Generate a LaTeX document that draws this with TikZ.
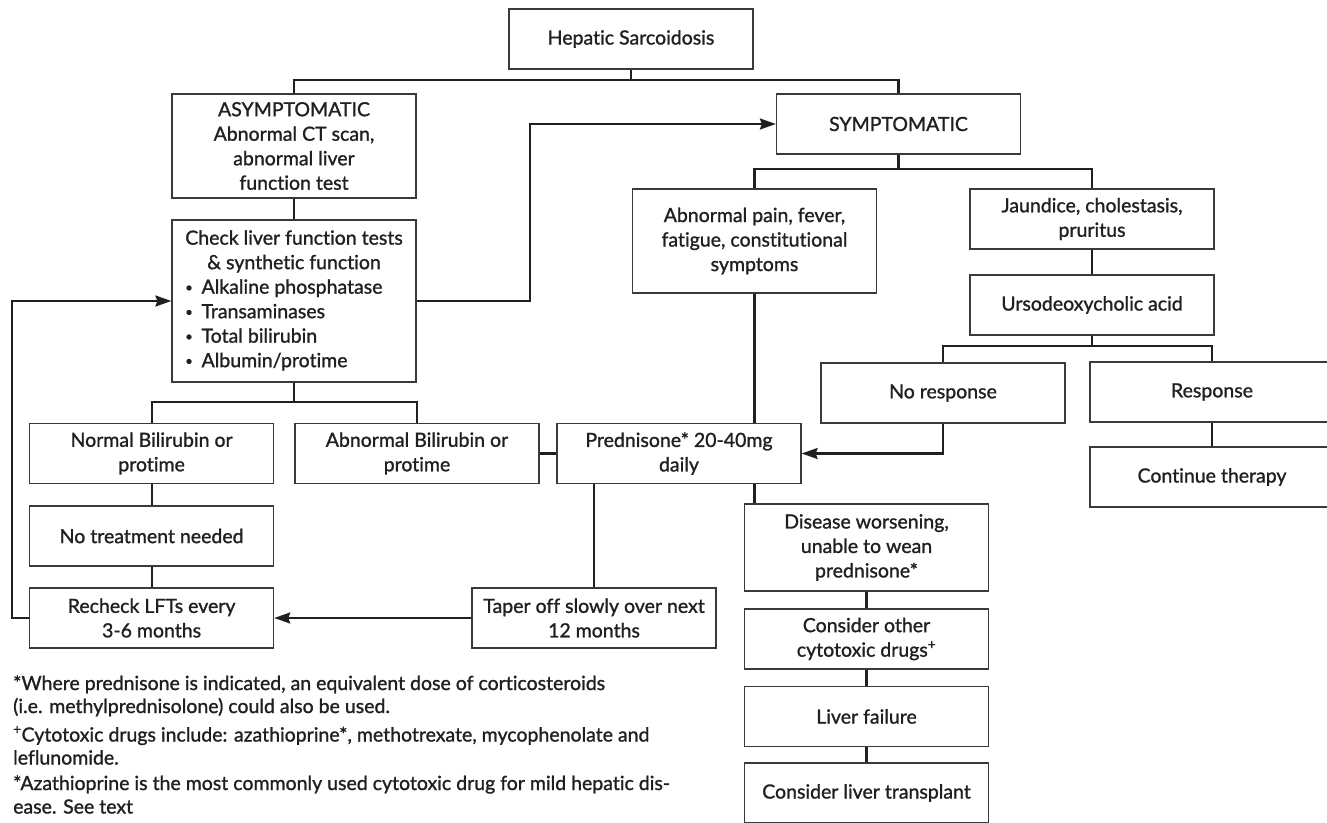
\documentclass[tikz,border=0pt]{standalone}
\usepackage{fontspec}
\setmainfont{Lato}[FakeBold=1.2, Ligatures=NoCommon]
\usetikzlibrary{arrows.meta}
\definecolor{ink}{HTML}{231F20}
\definecolor{boxline}{HTML}{3A3A3A}
\newcommand\boxfont{\fontsize{19.5}{24.5}\selectfont}
\newcommand\smallbul{{\fontsize{13}{13}\selectfont\raisebox{1.8pt}{•}}\hspace{0.45em}}
\tikzset{
  box/.style={draw=boxline, line width=1.3pt, minimum width=244pt, minimum height=60pt,
    align=center, inner sep=2pt, text=ink, font=\boxfont},
  conn/.style={draw=ink, line width=2.2pt},
  arr/.style={conn, -{Stealth[length=16pt,width=11pt,inset=2pt]}},
  note/.style={anchor=base west, inner sep=0pt, text=ink, font=\boxfont}
}
\begin{document}
\begin{tikzpicture}[x=1pt,y=-1pt]
\path[use as bounding box] (0,0) rectangle (1327,822);
\fill[white] (0,0) rectangle (1327,822);
\clip (0,0) rectangle (1327,822);

% boxes
\node[box] (hep) at (631,39) {Hepatic Sarcoidosis};
\node[box, minimum height=104pt] (asym) at (294,146) {ASYMPTOMATIC\\Abnormal CT scan,\\abnormal liver\\function test};
\node[box] (symp) at (898.5,124) {SYMPTOMATIC};
\node[box, minimum height=162pt] (check) at (294,301) {\begin{tabular}{@{}l@{}}\multicolumn{1}{@{}c@{}}{Check liver function tests}\\
 \multicolumn{1}{@{}c@{}}{\& synthetic function}\\
 \smallbul Alkaline phosphatase\\
 \smallbul Transaminases\\
 \smallbul Total bilirubin\\
 \smallbul Albumin/protime\end{tabular}};
\node[box, minimum height=104pt] (pain) at (754.5,241) {Abnormal pain, fever,\\fatigue, constitutional\\symptoms};
\node[box] (jaun) at (1092,219) {Jaundice, cholestasis,\\pruritus};
\node[box] (urso) at (1092,305) {Ursodeoxycholic acid};
\node[box] (nores) at (943,393) {No response};
\node[box] (resp) at (1212,392) {Response};
\node[box] (normal) at (151.6,453.5) {Normal Bilirubin or\\protime};
\node[box] (abn) at (417,453.5) {Abnormal Bilirubin or\\protime};
\node[box] (pred) at (679,453.5) {Prednisone* 20-40mg\\daily};
\node[box] (cont) at (1212,477) {Continue therapy};
\node[box] (notreat) at (151.6,536) {No treatment needed};
\node[box] (recheck) at (151.6,618) {Recheck LFTs every\\3-6 months};
\node[box] (taper) at (594,618) {Taper off slowly over next\\12 months};
\node[box, minimum height=87pt] (dis) at (866.5,547.5) {Disease worsening,\\unable to wean\\prednisone*};
\node[box] (cons) at (866.5,639) {Consider other\\cytotoxic drugs\textsuperscript{+}};
\node[box] (fail) at (866.5,716.5) {Liver failure};
\node[box] (trans) at (866.5,793) {Consider liver transplant};

% connectors
\coordinate (b1) at (631,80);
\draw[conn] (hep.south) -- (b1);
\draw[conn] (asym.north) |- (b1) -| (symp.north);
\draw[conn] (asym.south) -- (check.north);
\draw[arr] (check.east) -- ++(113,0) |- (symp.west);
\draw[arr] (recheck.west) -- ++(-17,0) |- (check.west);
\coordinate (b2) at (294,402);
\draw[conn] (check.south) -- (b2);
\draw[conn] (normal.north) |- (b2) -| (abn.north);
\draw[conn] (abn.east) -- (pred.west);
\draw[conn] (pain.south) -- (pain.south |- pred.north);
\coordinate (b3) at (898.5,169);
\draw[conn] (symp.south) -- (b3);
\draw[conn] (pain.north) |- (b3) -| (jaun.north);
\draw[conn] (jaun.south) -- (urso.north);
\coordinate (b4) at (1092,346);
\draw[conn] (urso.south) -- (b4);
\draw[conn] (nores.north) |- (b4) -| (resp.north);
\draw[arr] (nores.south) |- (pred.east);
\draw[conn] (resp.south) -- (cont.north);
\draw[conn] (normal.south) -- (notreat.north);
\draw[conn] (notreat.south) -- (recheck.north);
\draw[conn] (taper.north |- pred.south) -- (taper.north);
\draw[conn] (pain.south |- pred.south) -- (pain.south |- dis.north);
\draw[arr] (taper.west) -- (recheck.east);
\draw[conn] (dis.south) -- (cons.north);
\draw[conn] (cons.south) -- (fail.north);
\draw[conn] (fail.south) -- (trans.north);

% footnotes
\node[note] (f1a) at (13,690) {*Where prednisone is indicated, an equivalent dose of corticosteroids};
\node[note] (f1b) at (13,713) {(i.e. methylprednisolone) could also be used.};
\node[note] (f2a) at (13,741.5) {\textsuperscript{+}Cytotoxic drugs include: azathioprine*, methotrexate, mycophenolate and};
\node[note] (f2b) at (13,764.5) {leflunomide.};
\node[note] (f3a) at (13,790) {*Azathioprine is the most commonly used cytotoxic drug for mild hepatic dis-};
\node[note] (f3b) at (13,813.5) {ease. See text};
\end{tikzpicture}
\end{document}
